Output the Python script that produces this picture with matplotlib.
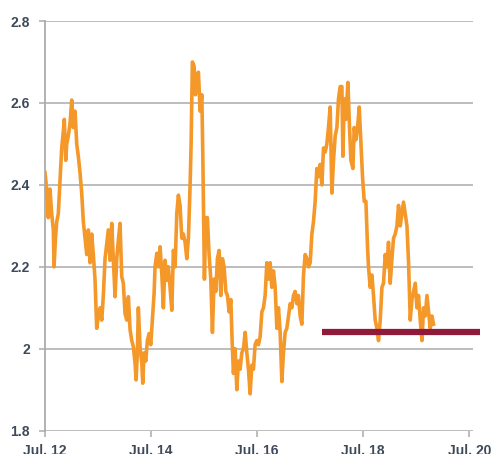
import matplotlib.pyplot as plt

# time in decimal years
years = [2012.500, 2012.532, 2012.562, 2012.594, 2012.626, 2012.657, 2012.670, 2012.698,
         2012.721, 2012.751, 2012.783, 2012.815, 2012.845, 2012.864, 2012.891, 2012.909,
         2012.940, 2012.972, 2013.004, 2013.034, 2013.066, 2013.098, 2013.128, 2013.160,
         2013.192, 2013.223, 2013.255, 2013.287, 2013.317, 2013.349, 2013.381, 2013.411,
         2013.443, 2013.475, 2013.506, 2013.538, 2013.570, 2013.600,
         2013.632, 2013.664, 2013.694, 2013.726, 2013.758, 2013.789, 2013.821, 2013.853,
         2013.883, 2013.915, 2013.947, 2013.977, 2014.009, 2014.042, 2014.072, 2014.104,
         2014.136, 2014.166, 2014.198, 2014.217, 2014.242, 2014.260, 2014.292, 2014.325,
         2014.343, 2014.368, 2014.400, 2014.430, 2014.462, 2014.494, 2014.525, 2014.557,
         2014.575, 2014.608, 2014.638, 2014.670, 2014.702, 2014.732, 2014.764, 2014.796,
         2014.826, 2014.858, 2014.891, 2014.921,
         2014.953, 2014.985, 2015.015, 2015.047, 2015.079, 2015.109, 2015.142, 2015.174,
         2015.204, 2015.236, 2015.255, 2015.279, 2015.311, 2015.336, 2015.362, 2015.393,
         2015.425, 2015.457, 2015.476, 2015.506, 2015.532, 2015.562, 2015.594, 2015.626,
         2015.657, 2015.689, 2015.721, 2015.751, 2015.783, 2015.815, 2015.845, 2015.877,
         2015.909, 2015.940, 2015.972, 2016.004, 2016.028, 2016.053, 2016.085, 2016.117,
         2016.147, 2016.179, 2016.211, 2016.242, 2016.274, 2016.306, 2016.336, 2016.368,
         2016.400, 2016.430, 2016.462, 2016.494, 2016.525, 2016.557, 2016.589, 2016.619,
         2016.651, 2016.683, 2016.713, 2016.745, 2016.777, 2016.808, 2016.840, 2016.872,
         2016.902, 2016.934, 2016.966, 2016.996, 2017.028, 2017.060, 2017.091, 2017.123,
         2017.155, 2017.185, 2017.217, 2017.249, 2017.279, 2017.311, 2017.343, 2017.374,
         2017.406, 2017.438, 2017.468, 2017.500, 2017.532, 2017.562, 2017.594, 2017.626,
         2017.657, 2017.689, 2017.721, 2017.751, 2017.783, 2017.815, 2017.845, 2017.877,
         2017.909, 2017.940, 2017.972, 2018.004, 2018.034, 2018.066, 2018.098, 2018.117,
         2018.142, 2018.174, 2018.211, 2018.242, 2018.268, 2018.306, 2018.330, 2018.362,
         2018.393, 2018.425, 2018.457, 2018.487, 2018.519, 2018.551, 2018.581, 2018.600,
         2018.632, 2018.664, 2018.694, 2018.726, 2018.758, 2018.789, 2018.821, 2018.853,
         2018.883, 2018.915, 2018.947, 2018.977, 2019.009, 2019.042, 2019.072, 2019.104,
         2019.136, 2019.166, 2019.198, 2019.230, 2019.260, 2019.292, 2019.325, 2019.355,
         2019.387, 2019.419, 2019.449, 2019.481, 2019.513, 2019.543, 2019.575, 2019.608,
         2019.638, 2019.670, 2019.702, 2019.732, 2019.764, 2019.796, 2019.826]

values = [2.43, 2.39, 2.32, 2.39, 2.33, 2.29, 2.20, 2.27,
          2.31, 2.33, 2.41, 2.49, 2.53, 2.56, 2.46, 2.50,
          2.52, 2.55, 2.607, 2.54, 2.58, 2.50, 2.47, 2.43,
          2.38, 2.31, 2.27, 2.23, 2.29, 2.21, 2.28, 2.23,
          2.17, 2.05, 2.08, 2.10, 2.07, 2.13,
          2.22, 2.257, 2.29, 2.216, 2.306, 2.216, 2.127, 2.22,
          2.265, 2.306, 2.176, 2.16, 2.086, 2.07, 2.127, 2.046,
          2.02, 2.005, 1.965, 1.924, 1.99, 2.10, 2.005, 1.965,
          1.916, 1.99, 1.97, 2.02, 2.037, 2.01, 2.07, 2.135,
          2.20, 2.233, 2.20, 2.249, 2.184, 2.10, 2.216, 2.167,
          2.20, 2.15, 2.094, 2.24,
          2.20, 2.33, 2.375, 2.35, 2.27, 2.28, 2.26, 2.22,
          2.27, 2.40, 2.50, 2.70, 2.69, 2.62, 2.67, 2.675,
          2.58, 2.62, 2.47, 2.17, 2.32, 2.32, 2.23, 2.17,
          2.04, 2.17, 2.14, 2.22, 2.24, 2.13, 2.22, 2.20,
          2.14, 2.13, 2.09, 2.12, 2.02, 1.94, 2.00, 1.90,
          1.97, 1.95, 1.99, 2.00, 2.04, 1.99, 1.95, 1.89,
          1.96, 1.95, 2.01, 2.02, 2.01, 2.03, 2.09, 2.10,
          2.13, 2.21, 2.17, 2.21, 2.15, 2.19, 2.15, 2.05,
          2.10, 2.04, 1.92, 1.99, 2.04, 2.05, 2.08, 2.11,
          2.10, 2.13, 2.14, 2.11, 2.13, 2.08, 2.06, 2.18,
          2.23, 2.22, 2.20, 2.21, 2.28, 2.31, 2.36, 2.44,
          2.42, 2.45, 2.40, 2.49, 2.48, 2.50, 2.54, 2.59,
          2.38, 2.46, 2.52, 2.54, 2.61, 2.64, 2.64, 2.47,
          2.61, 2.56, 2.65, 2.54, 2.46, 2.44, 2.54, 2.51,
          2.54, 2.59, 2.50, 2.42, 2.36, 2.36, 2.25, 2.20,
          2.15, 2.18, 2.13, 2.07, 2.05, 2.02, 2.07, 2.15,
          2.16, 2.23, 2.20, 2.26, 2.16, 2.22, 2.27, 2.28,
          2.30, 2.35, 2.30, 2.33, 2.358, 2.33, 2.30, 2.21,
          2.07, 2.12, 2.14, 2.16, 2.10, 2.13, 2.07, 2.02,
          2.10, 2.08, 2.13, 2.09, 2.05, 2.08, 2.06]

# horizontal reference level
ref_start = 2017.726
ref_end = 2020.708
ref_level = 2.04

tick_years = [2012.5, 2014.5, 2016.5, 2018.5, 2020.5]
tick_labels = ["Jul. 12", "Jul. 14", "Jul. 16", "Jul. 18", "Jul. 20"]
y_ticks = [1.8, 2.0, 2.2, 2.4, 2.6, 2.8]
y_labels = ["1.8", "2", "2.2", "2.4", "2.6", "2.8"]

plt.rcParams['font.family'] = ['Liberation Sans', 'DejaVu Sans']

fig = plt.figure(figsize=(4.94, 4.54), dpi=100)
ax = fig.add_axes([0.0911, 0.0513, 0.8669, 0.9024])

grid_col = '#ababab'
text_col = '#3e4a5a'

for yv in y_ticks:
    ax.axhline(yv, color=grid_col, lw=1.1, zorder=1)

ax.plot(years, values, color='#f4982a', lw=2.6, solid_joinstyle='round', zorder=3)
ax.plot([ref_start, ref_end], [ref_level, ref_level], color='#8f1a3a', lw=4.5,
        solid_capstyle='butt', clip_on=False, zorder=4)

ax.set_xlim(2012.5, 2020.575)
ax.set_ylim(1.8, 2.8)

for s in ['top', 'right', 'bottom']:
    ax.spines[s].set_visible(False)
ax.spines['left'].set_color(grid_col)
ax.spines['left'].set_linewidth(1.3)

ax.set_yticks(y_ticks)
ax.set_yticklabels(y_labels)
ax.set_xticks(tick_years)
ax.set_xticklabels(tick_labels)
ax.tick_params(axis='both', colors=grid_col, length=4, width=1.1, labelcolor=text_col,
               labelsize=10)
ax.tick_params(axis='y', pad=7)
ax.tick_params(axis='x', pad=5.5)
for lab in ax.get_xticklabels() + ax.get_yticklabels():
    lab.set_fontweight('bold')

fig.savefig('out.png', dpi=100)
